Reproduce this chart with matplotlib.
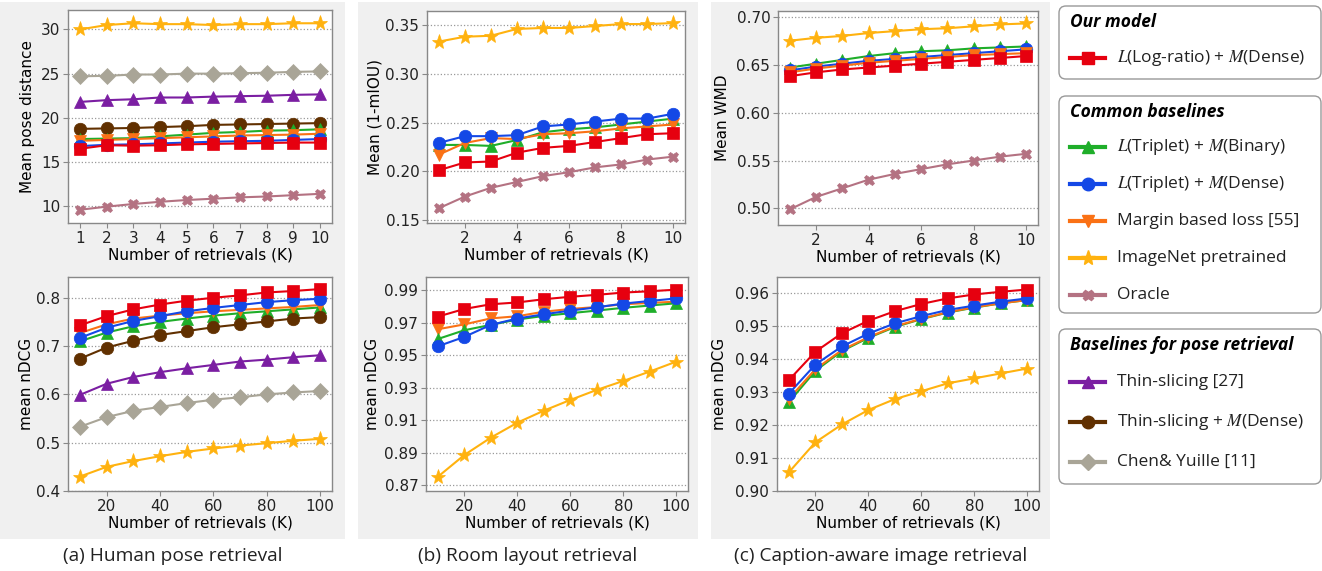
import matplotlib
matplotlib.use('Agg')
import matplotlib.pyplot as plt
from matplotlib.patches import Rectangle, FancyBboxPatch
from matplotlib.lines import Line2D
import numpy as np

plt.rcParams['mathtext.fontset'] = 'stix'

W, H = 1322, 571

k_small = [1, 2, 3, 4, 5, 6, 7, 8, 9, 10]
k_large = [10, 20, 30, 40, 50, 60, 70, 80, 90, 100]

# (a) human pose retrieval, mean pose distance
pose_dist = {
    'imagenet': [30.0, 30.5, 30.7, 30.6, 30.6, 30.5, 30.6, 30.6, 30.7, 30.7],
    'chen': [24.7, 24.75, 24.9, 24.9, 25.0, 25.0, 25.05, 25.1, 25.2, 25.25],
    'thin': [21.8, 22.0, 22.1, 22.3, 22.3, 22.4, 22.45, 22.5, 22.6, 22.65],
    'thin_dense': [18.75, 18.8, 18.85, 18.95, 19.05, 19.2, 19.25, 19.3, 19.35, 19.4],
    'triplet_bin': [17.6, 17.65, 17.7, 17.9, 18.1, 18.3, 18.4, 18.55, 18.6, 18.7],
    'margin': [17.4, 17.5, 17.6, 17.7, 17.8, 17.9, 18.0, 18.05, 18.1, 18.2],
    'triplet_dense': [16.8, 16.95, 17.0, 17.1, 17.2, 17.3, 17.35, 17.4, 17.5, 17.6],
    'logratio': [16.5, 16.9, 16.85, 16.9, 17.0, 17.05, 17.1, 17.15, 17.2, 17.2],
    'oracle': [9.6, 9.95, 10.25, 10.5, 10.7, 10.85, 11.0, 11.1, 11.25, 11.4],
}
pose_ndcg = {
    'triplet_bin': [0.710, 0.728, 0.741, 0.750, 0.757, 0.763, 0.768, 0.772, 0.776, 0.780],
    'margin': [0.727, 0.745, 0.757, 0.763, 0.768, 0.772, 0.775, 0.778, 0.781, 0.785],
    'triplet_dense': [0.717, 0.738, 0.752, 0.762, 0.772, 0.779, 0.785, 0.791, 0.795, 0.798],
    'thin_dense': [0.674, 0.697, 0.711, 0.723, 0.731, 0.739, 0.745, 0.751, 0.757, 0.760],
    'thin': [0.599, 0.622, 0.636, 0.646, 0.654, 0.661, 0.668, 0.672, 0.677, 0.681],
    'chen': [0.533, 0.553, 0.566, 0.574, 0.582, 0.589, 0.594, 0.600, 0.604, 0.607],
    'imagenet': [0.430, 0.450, 0.462, 0.472, 0.481, 0.488, 0.494, 0.499, 0.504, 0.508],
    'logratio': [0.743, 0.762, 0.776, 0.786, 0.794, 0.800, 0.805, 0.811, 0.814, 0.818],
}

# (b) room layout retrieval
room_miou = {
    'imagenet': [0.333, 0.338, 0.339, 0.346, 0.347, 0.347, 0.349, 0.351, 0.351, 0.352],
    'triplet_bin': [0.227, 0.227, 0.226, 0.232, 0.240, 0.243, 0.245, 0.248, 0.251, 0.254],
    'margin': [0.217, 0.229, 0.234, 0.233, 0.238, 0.239, 0.241, 0.244, 0.246, 0.248],
    'triplet_dense': [0.229, 0.236, 0.236, 0.237, 0.246, 0.248, 0.251, 0.254, 0.254, 0.259],
    'logratio': [0.201, 0.209, 0.210, 0.219, 0.224, 0.226, 0.230, 0.234, 0.238, 0.239],
    'oracle': [0.162, 0.174, 0.183, 0.189, 0.195, 0.199, 0.204, 0.207, 0.212, 0.215],
}
room_ndcg = {
    'imagenet': [0.8751, 0.8885, 0.8992, 0.9084, 0.9158, 0.9224, 0.9286, 0.9341, 0.9399, 0.9460],
    'margin': [0.9660, 0.9690, 0.9727, 0.9740, 0.9768, 0.9785, 0.9797, 0.9814, 0.9822, 0.9830],
    'triplet_bin': [0.9600, 0.9654, 0.9687, 0.9720, 0.9742, 0.9759, 0.9775, 0.9792, 0.9806, 0.9820],
    'triplet_dense': [0.9555, 0.9613, 0.9687, 0.9726, 0.9752, 0.9775, 0.9795, 0.9818, 0.9834, 0.9850],
    'logratio': [0.9738, 0.9785, 0.9814, 0.9825, 0.9845, 0.9860, 0.9872, 0.9886, 0.9894, 0.9904],
}

# (c) caption-aware image retrieval
cap_wmd = {
    'imagenet': [0.675, 0.678, 0.680, 0.683, 0.685, 0.687, 0.688, 0.690, 0.692, 0.693],
    'triplet_bin': [0.647, 0.651, 0.655, 0.659, 0.662, 0.664, 0.665, 0.667, 0.668, 0.669],
    'triplet_dense': [0.644, 0.648, 0.651, 0.654, 0.656, 0.658, 0.660, 0.662, 0.664, 0.666],
    'margin': [0.642, 0.646, 0.649, 0.652, 0.654, 0.656, 0.658, 0.660, 0.661, 0.662],
    'logratio': [0.638, 0.642, 0.645, 0.647, 0.649, 0.651, 0.653, 0.655, 0.657, 0.659],
    'oracle': [0.499, 0.512, 0.521, 0.530, 0.536, 0.541, 0.546, 0.550, 0.554, 0.557],
}
cap_ndcg = {
    'imagenet': [0.9057, 0.9148, 0.9202, 0.9246, 0.9279, 0.9303, 0.9327, 0.9342, 0.9357, 0.9372],
    'triplet_bin': [0.9270, 0.9365, 0.9425, 0.9465, 0.9498, 0.9522, 0.9542, 0.9557, 0.9570, 0.9580],
    'margin': [0.9280, 0.9370, 0.9428, 0.9467, 0.9500, 0.9523, 0.9543, 0.9558, 0.9570, 0.9580],
    'triplet_dense': [0.9296, 0.9384, 0.9439, 0.9478, 0.9509, 0.9531, 0.9550, 0.9563, 0.9575, 0.9585],
    'logratio': [0.9337, 0.9423, 0.9479, 0.9517, 0.9546, 0.9568, 0.9585, 0.9597, 0.9605, 0.9612],
}

styles = {
    'logratio': dict(color='#e6000f', marker='s', ms=8.5),
    'triplet_bin': dict(color='#1fae2a', marker='^', ms=8.5),
    'triplet_dense': dict(color='#1448e6', marker='o', ms=9),
    'margin': dict(color='#fa7115', marker='v', ms=8.5),
    'imagenet': dict(color='#ffb20f', marker='*', ms=11),
    'oracle': dict(color='#b47282', marker='X', ms=7.5),
    'thin': dict(color='#7b1ea2', marker='^', ms=8.5),
    'thin_dense': dict(color='#613000', marker='o', ms=9),
    'chen': dict(color='#a9a597', marker='D', ms=8),
}

legend_groups = [
    ('Our model', [('logratio', r'$L$(Log-ratio) + $M$(Dense)')]),
    ('Common baselines', [('triplet_bin', r'$L$(Triplet) + $M$(Binary)'),
                          ('triplet_dense', r'$L$(Triplet) + $M$(Dense)'),
                          ('margin', 'Margin based loss [55]'),
                          ('imagenet', 'ImageNet pretrained'),
                          ('oracle', 'Oracle')]),
    ('Baselines for pose retrieval', [('thin', 'Thin-slicing [27]'),
                                      ('thin_dense', r'Thin-slicing + $M$(Dense)'),
                                      ('chen', 'Chen& Yuille [11]')]),
]

captions = ['(a) Human pose retrieval', '(b) Room layout retrieval',
            '(c) Caption-aware image retrieval']

fig = plt.figure(figsize=(W / 100, H / 100), dpi=100)

# gray panel backgrounds
for x0, x1 in [(0, 345), (358, 698), (711, 1050)]:
    fig.patches.append(Rectangle((x0 / W, 1 - 539 / H), (x1 - x0) / W, 537 / H,
                                 transform=fig.transFigure, facecolor='#f0f0f0',
                                 edgecolor='none', zorder=-10))


def add_ax(l, t, r, b):
    return fig.add_axes([l / W, 1 - b / H, (r - l) / W, (b - t) / H]), (l, r)


panels = [
    (add_ax(68, 10, 332, 223), k_small, pose_dist, 'Mean pose distance', 35,
     (8.1, 32.2), [10, 15, 20, 25, 30], '%d', k_small),
    (add_ax(68, 277, 332, 491), k_large, pose_ndcg, 'mean nDCG', 34,
     (0.4, 0.843), [0.4, 0.5, 0.6, 0.7, 0.8], '%.1f', [20, 40, 60, 80, 100]),
    (add_ax(427, 11, 685, 223), k_small, room_miou, 'Mean (1-mIOU)', 382,
     (0.1469, 0.3644), [0.15, 0.20, 0.25, 0.30, 0.35], '%.2f', [2, 4, 6, 8, 10]),
    (add_ax(426, 277, 688, 491), k_large, room_ndcg, 'mean nDCG', 380,
     (0.8663, 0.9982), [0.87, 0.89, 0.91, 0.93, 0.95, 0.97, 0.99], '%.2f', [20, 40, 60, 80, 100]),
    (add_ax(778, 11, 1038, 225), k_small, cap_wmd, 'Mean WMD', 730,
     (0.4827, 0.706), [0.50, 0.55, 0.60, 0.65, 0.70], '%.2f', [2, 4, 6, 8, 10]),
    (add_ax(777, 277, 1039, 491), k_large, cap_ndcg, 'mean nDCG', 727,
     (0.90, 0.965), [0.90, 0.91, 0.92, 0.93, 0.94, 0.95, 0.96], '%.2f', [20, 40, 60, 80, 100]),
]

for (ax, (l, r)), xs, data, ylabel, ylab_x, ylim, yticks, fmt, xticks in panels:
    for name, vals in data.items():
        st = styles[name]
        ax.plot(xs, vals, color=st['color'], marker=st['marker'], markersize=st['ms'],
                linewidth=1.5, markeredgewidth=0.5, markeredgecolor=st['color'])
    ax.set_ylim(*ylim)
    ax.set_yticks(yticks)
    ax.set_yticklabels([fmt % v for v in yticks])
    ax.set_xticks(xticks)
    ax.set_xlabel('Number of retrievals (K)', fontsize=11, labelpad=1)
    ax.set_ylabel(ylabel, fontsize=11)
    ax.yaxis.set_label_coords((ylab_x - l) / (r - l), 0.5)
    ax.tick_params(labelsize=11, colors='#222222', length=3.5, width=0.8, pad=2)
    ax.tick_params(color='#888888')
    ax.grid(axis='y', linestyle=':', color='#999999', linewidth=0.9)
    ax.set_axisbelow(True)
    for sp in ax.spines.values():
        sp.set_color('#888888')
        sp.set_linewidth(1)

for cx, txt in zip([173, 528, 881], captions):
    fig.text(cx / W, 1 - 556 / H, txt, ha='center', va='center',
             fontsize=13.8, family='Open Sans', color='#222222')

# legend panel
lax = fig.add_axes([1050 / W, 0, 272 / W, 1])
lax.set_xlim(0, 272)
lax.set_ylim(H, 0)
lax.axis('off')

boxes = [(6, 79, 52, 36), (96, 313, 51, 37), (329, 484, 53, 40)]
for (top, bot, first, gap), (title, entries) in zip(boxes, legend_groups):
    lax.add_patch(FancyBboxPatch((9, top), 262, bot - top,
                                 boxstyle='round,pad=0,rounding_size=7',
                                 facecolor='white', edgecolor='#999999', linewidth=1))
    lax.text(20, top + 16, title, fontsize=12.5, family='Open Sans', fontweight='bold',
             fontstyle='italic', va='center', ha='left', color='black')
    for i, (name, label) in enumerate(entries):
        y = top + first + i * gap
        st = styles[name]
        lax.add_line(Line2D([20, 37.5, 55], [y, y, y], color=st['color'], linewidth=3,
                            marker=st['marker'], markersize=st['ms'],
                            markevery=[1], markeredgecolor=st['color']))
        lax.text(67, y, label, fontsize=12.5, family='Open Sans', va='center',
                 ha='left', color='#222222')

fig.savefig('out.png', dpi=100)
